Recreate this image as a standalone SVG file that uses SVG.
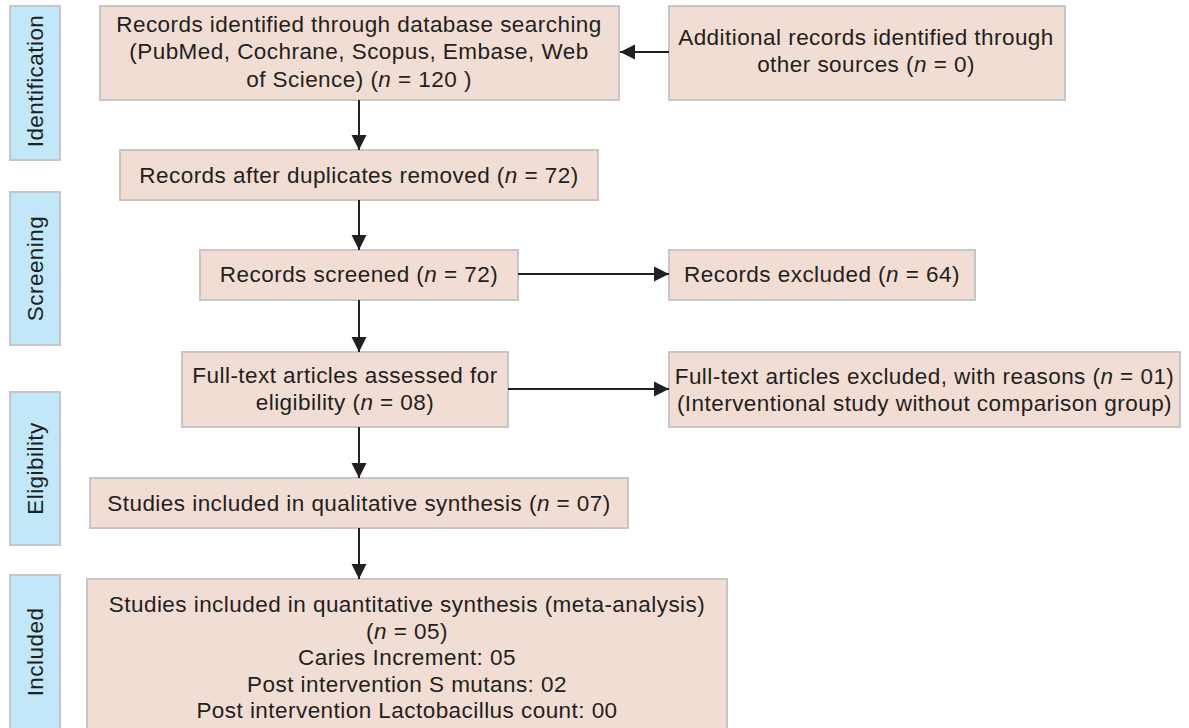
<svg xmlns="http://www.w3.org/2000/svg" width="1189" height="728" viewBox="0 0 1189 728">
<defs>
<style>
.box{fill:#f2ddd4;stroke:#c6c6c6;stroke-width:2}
.side{fill:#c1e7f8;stroke:#c6c6c6;stroke-width:2}
text{font-family:"Liberation Sans",Arial,sans-serif;font-size:22.5px;letter-spacing:0.45px;fill:#231f20;text-anchor:middle}
.i{font-style:italic}
.conn{stroke:#231f20;stroke-width:2;fill:none}
</style>
<marker id="ah" markerUnits="userSpaceOnUse" markerWidth="16" markerHeight="16" viewBox="0 0 16 16" refX="15" refY="8" orient="auto">
<path d="M0,0.5 L15,8 L0,15.5 z" fill="#231f20"/>
</marker>
</defs>
<rect width="1189" height="728" fill="#ffffff"/>

<g id="phase-identification">
<rect class="side" x="10" y="6" width="50" height="154"/>
<text transform="translate(43,81) rotate(-90)">Identification</text>
</g>
<g id="phase-screening">
<rect class="side" x="10" y="192" width="50" height="153"/>
<text transform="translate(43,268.5) rotate(-90)">Screening</text>
</g>
<g id="phase-eligibility">
<rect class="side" x="10" y="392" width="50" height="153"/>
<text transform="translate(43,468.5) rotate(-90)">Eligibility</text>
</g>
<g id="phase-included">
<rect class="side" x="10" y="575" width="50" height="160"/>
<text transform="translate(43,652) rotate(-90)">Included</text>
</g>

<g id="n-database">
<rect class="box" x="100" y="6" width="519" height="94"/>
<text x="359" y="31.5">Records identified through database searching</text>
<text x="359" y="59">(PubMed, Cochrane, Scopus, Embase, Web</text>
<text x="359" y="86.5">of Science) (<tspan class="i">n</tspan> = 120 )</text>
</g>
<g id="n-additional">
<rect class="box" x="669" y="6" width="396" height="94"/>
<text x="866" y="44.5">Additional records identified through</text>
<text x="866" y="71.5">other sources (<tspan class="i">n</tspan> = 0)</text>
</g>
<g id="n-duplicates">
<rect class="box" x="120" y="150" width="478" height="50"/>
<text x="359" y="182.5">Records after duplicates removed (<tspan class="i">n</tspan> = 72)</text>
</g>
<g id="n-screened">
<rect class="box" x="200" y="250" width="318" height="50"/>
<text x="359" y="282">Records screened (<tspan class="i">n</tspan> = 72)</text>
</g>
<g id="n-excluded">
<rect class="box" x="669" y="250" width="306" height="50"/>
<text x="822" y="282">Records excluded (<tspan class="i">n</tspan> = 64)</text>
</g>
<g id="n-fulltext">
<rect class="box" x="182" y="352" width="326" height="75"/>
<text x="345" y="383">Full-text articles assessed for</text>
<text x="345" y="410">eligibility (<tspan class="i">n</tspan> = 08)</text>
</g>
<g id="n-fulltext-excluded">
<rect class="box" x="669" y="352" width="511" height="75"/>
<text x="924.5" y="383.5">Full-text articles excluded, with reasons (<tspan class="i">n</tspan> = 01)</text>
<text x="924.5" y="410.5">(Interventional study without comparison group)</text>
</g>
<g id="n-qualitative">
<rect class="box" x="90" y="478" width="538" height="50"/>
<text x="359" y="510.5">Studies included in qualitative synthesis (<tspan class="i">n</tspan> = 07)</text>
</g>
<g id="n-quantitative">
<rect class="box" x="87" y="579" width="640" height="160"/>
<text x="407" y="612">Studies included in quantitative synthesis (meta-analysis)</text>
<text x="407" y="638.5">(<tspan class="i">n</tspan> = 05)</text>
<text x="407" y="665">Caries Increment: 05</text>
<text x="407" y="691.5">Post intervention S mutans: 02</text>
<text x="407" y="718">Post intervention Lactobacillus count: 00</text>
</g>

<g id="connectors">
<line class="conn" x1="669" y1="52" x2="620" y2="52" marker-end="url(#ah)"/>
<line class="conn" x1="359" y1="100" x2="359" y2="150" marker-end="url(#ah)"/>
<line class="conn" x1="359" y1="200" x2="359" y2="250" marker-end="url(#ah)"/>
<line class="conn" x1="518" y1="274" x2="669" y2="274" marker-end="url(#ah)"/>
<line class="conn" x1="359" y1="300" x2="359" y2="352" marker-end="url(#ah)"/>
<line class="conn" x1="508" y1="389" x2="669" y2="389" marker-end="url(#ah)"/>
<line class="conn" x1="359" y1="427" x2="359" y2="478" marker-end="url(#ah)"/>
<line class="conn" x1="359" y1="528" x2="359" y2="579" marker-end="url(#ah)"/>
</g>
</svg>
